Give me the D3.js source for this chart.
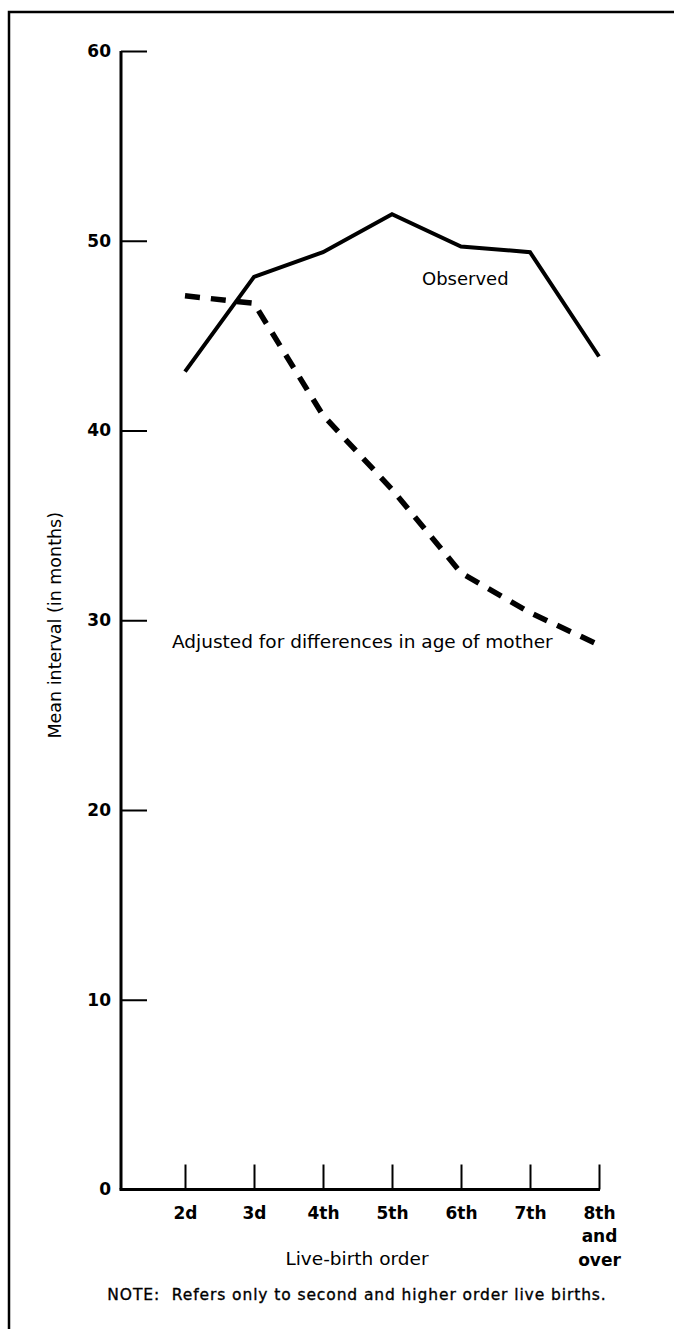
<!DOCTYPE html>
<html>
<head>
<meta charset="utf-8">
<script src="https://cdn.jsdelivr.net/npm/d3@7"></script>
<style>
  html, body { margin: 0; padding: 0; background: #fff; }
  svg { display: block; }
  text { fill: #000; font-family: "DejaVu Sans", sans-serif; }
</style>
</head>
<body>
<script>
// ---- data ----
const categories = ["2d", "3d", "4th", "5th", "6th", "7th", "8th and over"];
const categoryLines = [["2d"], ["3d"], ["4th"], ["5th"], ["6th"], ["7th"], ["8th", "and", "over"]];
const observed = [43.1, 48.1, 49.4, 51.4, 49.7, 49.4, 43.9];
const adjusted = [47.1, 46.7, 40.8, 36.9, 32.5, 30.4, 28.7];
const yTicks = [0, 10, 20, 30, 40, 50, 60];
const yTitle = "Mean interval (in months)";
const xTitle = "Live-birth order";
const observedLabel = "Observed";
const adjustedLabel = "Adjusted for differences in age of mother";
const note = "NOTE:  Refers only to second and higher order live births.";

// ---- layout ----
const W = 674, H = 1329;
const axisX = 121, axisTop = 51, axisBottom = 1189.5;
const firstCat = 185, lastCat = 599;

const svg = d3.select("body").append("svg").attr("width", W).attr("height", H);

// frame (left and top rules)
svg.append("path")
  .attr("d", `M9,${H} L9,12 L${W},12`)
  .attr("fill", "none").attr("stroke", "#000").attr("stroke-width", 2.5);

const x = d3.scalePoint().domain(categories).range([firstCat, lastCat]);
const y = d3.scaleLinear().domain([0, 60]).range([axisBottom, axisTop]);

// y axis
const yAxis = d3.axisLeft(y).tickValues(yTicks).tickSizeInner(-26).tickSizeOuter(0).tickPadding(10);
const gy = svg.append("g").attr("transform", `translate(${axisX},0)`).call(yAxis);
gy.select(".domain").remove();
gy.selectAll(".tick line").attr("stroke", "#000").attr("stroke-width", 2);
gy.selectAll(".tick text")
  .style("font-family", "'DejaVu Sans', sans-serif")
  .style("font-weight", "bold").style("font-size", "17px").attr("fill", "#000");
gy.append("line")
  .attr("x1", 0).attr("x2", 0).attr("y1", y(60)).attr("y2", y(0))
  .attr("stroke", "#000").attr("stroke-width", 3);

// x axis
const xAxis = d3.axisBottom(x).tickSizeInner(-25).tickSizeOuter(0).tickFormat("");
const gx = svg.append("g").attr("transform", `translate(0,${axisBottom})`).call(xAxis);
gx.select(".domain").remove();
gx.selectAll(".tick line").attr("stroke", "#000").attr("stroke-width", 2);
gx.append("line")
  .attr("x1", axisX - 1.5).attr("x2", x(categories[categories.length - 1]) + 1)
  .attr("y1", 0).attr("y2", 0)
  .attr("stroke", "#000").attr("stroke-width", 3);
gx.selectAll(".tick").each(function(d, i) {
  const t = d3.select(this).append("text")
    .attr("text-anchor", "middle")
    .style("font-weight", "bold").style("font-size", "17px");
  categoryLines[i].forEach((s, j) => {
    t.append("tspan").attr("x", 0).attr("y", 29 + j * 23.5).text(s);
  });
});

// axis titles
svg.append("text")
  .attr("transform", `translate(61,${(y(0) + y(60)) / 2 + 5}) rotate(-90)`)
  .attr("text-anchor", "middle").style("font-size", "17.5px")
  .text(yTitle);
svg.append("text")
  .attr("x", 357).attr("y", 1265)
  .attr("text-anchor", "middle").style("font-size", "18.5px")
  .text(xTitle);

// lines
const line = d3.line().x((d, i) => x(categories[i])).y(d => y(d));
svg.append("path").datum(observed)
  .attr("d", line).attr("fill", "none").attr("stroke", "#000")
  .attr("stroke-width", 4).attr("stroke-linejoin", "miter");
svg.append("path").datum(adjusted)
  .attr("d", line).attr("fill", "none").attr("stroke", "#000")
  .attr("stroke-width", 5.5).attr("stroke-dasharray", "15 11");

// annotations
svg.append("text").attr("x", 422).attr("y", 285).style("font-size", "18px").text(observedLabel);
svg.append("text").attr("x", 172).attr("y", 648).style("font-size", "18.5px").text(adjustedLabel);

// note
svg.append("text").attr("x", 357).attr("y", 1300)
  .attr("text-anchor", "middle").style("font-size", "15.5px")
  .style("letter-spacing", "0.9px").style("white-space", "pre")
  .attr("xml:space", "preserve")
  .attr("stroke", "#000").attr("stroke-width", 0.35)
  .text(note);
</script>
</body>
</html>
